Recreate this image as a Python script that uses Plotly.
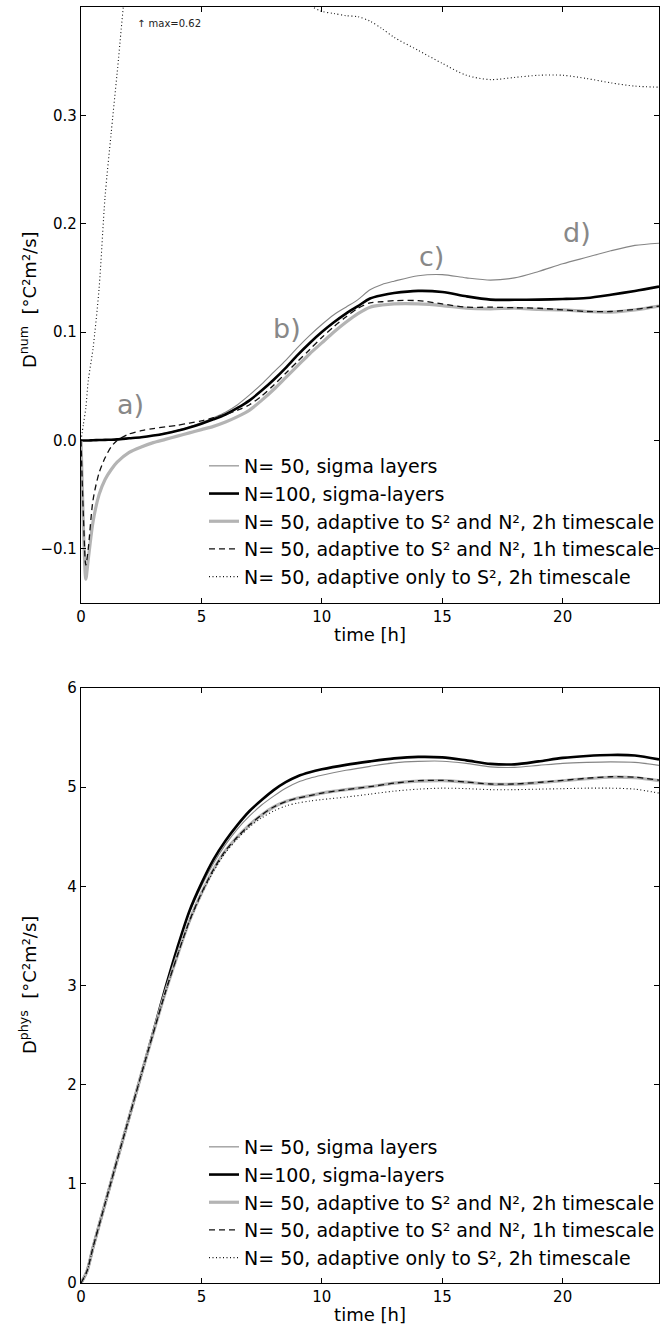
import plotly.graph_objects as go

# ---------------- data ----------------
# top panel (D_num)
t_top = [0, 0.1, 0.2, 0.3, 0.5, 0.75, 1, 1.25, 1.5,
         2, 2.5, 3, 3.5, 4, 4.5, 5, 5.5, 6, 6.5, 7, 7.5, 8, 8.5, 9, 9.5,
         10, 10.5, 11, 11.5, 12, 12.5, 13,
         14, 15, 16, 17, 18, 19, 20, 21, 22, 23, 24]

num_sigma50 = [0, 0, 0, 0, 0.0002, 0.0004, 0.0005, 0.0007, 0.001,
               0.002, 0.003, 0.0045, 0.0068, 0.0095, 0.0125, 0.0165, 0.021, 0.026, 0.033, 0.042, 0.052, 0.063, 0.074, 0.086, 0.097,
               0.107, 0.116, 0.123, 0.130, 0.139, 0.144, 0.147,
               0.152, 0.153, 0.150, 0.148, 0.150, 0.156, 0.163, 0.169, 0.175, 0.180, 0.182]

num_sigma100 = [0, 0, 0, 0, 0.0002, 0.0004, 0.0005, 0.0007, 0.001,
                0.002, 0.003, 0.0045, 0.0065, 0.009, 0.012, 0.0155, 0.0195, 0.024, 0.030, 0.037, 0.046, 0.056, 0.067, 0.079, 0.090,
                0.100, 0.109, 0.117, 0.124, 0.131, 0.134, 0.136,
                0.138, 0.137, 0.133, 0.130, 0.1298, 0.130, 0.1305, 0.1315, 0.1345, 0.138, 0.142]

num_adapt_2h = [0, -0.08, -0.128, -0.11, -0.075, -0.05, -0.036, -0.027, -0.020,
                -0.011, -0.006, -0.002, 0.001, 0.004, 0.007, 0.010, 0.013, 0.017, 0.022, 0.028, 0.037, 0.047, 0.058, 0.069, 0.080,
                0.090, 0.100, 0.109, 0.117, 0.123, 0.125, 0.126,
                0.126, 0.1245, 0.122, 0.1215, 0.122, 0.121, 0.1205, 0.119, 0.1185, 0.1205, 0.124]

num_adapt_1h = [0, -0.07, -0.115, -0.10, -0.055, -0.03, -0.016, -0.006, 0.0,
                0.006, 0.009, 0.011, 0.0125, 0.014, 0.016, 0.018, 0.021, 0.024, 0.028, 0.033, 0.041, 0.051, 0.062, 0.073, 0.084,
                0.095, 0.105, 0.114, 0.122, 0.127, 0.128, 0.129,
                0.129, 0.126, 0.123, 0.123, 0.1225, 0.122, 0.1205, 0.119, 0.119, 0.121, 0.124]

num_adapt_S2 = [0, 0.015, 0.03, 0.055, 0.085, 0.14, 0.225, 0.283, 0.339,
                0.45, 0.51, 0.555, 0.59, 0.61, 0.62, 0.615, 0.60, 0.58, 0.56, 0.53, 0.50, 0.47, 0.44, 0.42, 0.402,
                0.396, 0.394, 0.392, 0.391, 0.387, 0.380, 0.372,
                0.360, 0.348, 0.337, 0.333, 0.335, 0.337, 0.337, 0.334, 0.330, 0.327, 0.326]

# bottom panel (D_phys)
t_bot = [0, 0.25, 0.5, 1, 1.5, 2, 2.5, 3, 3.5, 4, 4.5, 5, 5.5, 6, 6.5, 7, 7.5, 8, 8.5, 9, 9.5,
         10, 11, 12, 13, 14, 15, 16, 17, 18, 19, 20, 21, 22, 23, 24]

phys_sigma50 = [0, 0.12, 0.36, 0.80, 1.24, 1.67, 2.10, 2.53, 2.96, 3.36, 3.73, 4.00, 4.23, 4.42, 4.58, 4.71, 4.82, 4.91, 4.99, 5.05, 5.09,
                5.12, 5.17, 5.21, 5.245, 5.26, 5.262, 5.24, 5.205, 5.20, 5.22, 5.24, 5.25, 5.255, 5.25, 5.22]

phys_sigma100 = [0, 0.12, 0.36, 0.80, 1.24, 1.67, 2.10, 2.53, 2.97, 3.38, 3.75, 4.03, 4.27, 4.46, 4.62, 4.76, 4.87, 4.97, 5.05, 5.11, 5.15,
                 5.18, 5.225, 5.26, 5.29, 5.305, 5.30, 5.27, 5.235, 5.23, 5.26, 5.295, 5.315, 5.325, 5.32, 5.28]

phys_adapt_2h = [0, 0.12, 0.36, 0.80, 1.24, 1.67, 2.10, 2.52, 2.93, 3.30, 3.65, 3.93, 4.17, 4.36, 4.50, 4.62, 4.72, 4.80, 4.855, 4.89, 4.915,
                 4.94, 4.975, 5.005, 5.04, 5.06, 5.065, 5.05, 5.03, 5.03, 5.045, 5.065, 5.085, 5.10, 5.095, 5.065]

phys_adapt_1h = [0, 0.12, 0.36, 0.80, 1.24, 1.67, 2.10, 2.52, 2.93, 3.30, 3.65, 3.93, 4.17, 4.36, 4.50, 4.62, 4.72, 4.80, 4.855, 4.89, 4.915,
                 4.94, 4.975, 5.005, 5.04, 5.065, 5.068, 5.052, 5.032, 5.032, 5.048, 5.068, 5.09, 5.105, 5.10, 5.07]

phys_adapt_S2 = [0, 0.12, 0.36, 0.80, 1.24, 1.67, 2.10, 2.52, 2.93, 3.30, 3.64, 3.92, 4.15, 4.34, 4.48, 4.60, 4.69, 4.76, 4.81, 4.84, 4.86,
                 4.875, 4.90, 4.93, 4.96, 4.98, 4.99, 4.985, 4.975, 4.975, 4.98, 4.985, 4.99, 4.99, 4.98, 4.94]

labels = ["N= 50, sigma layers",
          "N=100, sigma-layers",
          "N= 50, adaptive to S² and N², 2h timescale",
          "N= 50, adaptive to S² and N², 1h timescale",
          "N= 50, adaptive only to S², 2h timescale"]

x_ticks = [0, 5, 10, 15, 20]
y_ticks_top = [-0.1, 0.0, 0.1, 0.2, 0.3]
y_ticks_bot = [0, 1, 2, 3, 4, 5, 6]

panel_letters = ["a)", "b)", "c)", "d)"]
letter_t = [2.07, 8.55, 14.57, 20.6]
letter_v = [0.033, 0.103, 0.170, 0.192]

y_titles = ["D<sup>num</sup>  [°C²m²/s]", "D<sup>phys</sup>  [°C²m²/s]"]

# ---------------- styles ----------------
styles = [
    dict(color="#858585", width=1.1),
    dict(color="#000000", width=2.6),
    dict(color="#b4b4b4", width=3.2),
    dict(color="#111111", width=1.3, dash="6px,4px"),
    dict(color="#111111", width=1.1, dash="1px,2.5px"),
]

FONT = "DejaVu Sans"
fig = go.Figure()

top_series = [num_sigma50, num_sigma100, num_adapt_2h, num_adapt_1h, num_adapt_S2]
bot_series = [phys_sigma50, phys_sigma100, phys_adapt_2h, phys_adapt_1h, phys_adapt_S2]

for lab, ys, st in zip(labels, top_series, styles):
    fig.add_trace(go.Scatter(x=t_top, y=ys, mode="lines", name=lab,
                             line=dict(shape="spline", smoothing=0.8, **st),
                             xaxis="x", yaxis="y", legend="legend"))
for lab, ys, st in zip(labels, bot_series, styles):
    fig.add_trace(go.Scatter(x=t_bot, y=ys, mode="lines", name=lab,
                             line=dict(shape="spline", smoothing=0.8, **st),
                             xaxis="x2", yaxis="y2", legend="legend2"))

W, H = 669, 1329
ML, MR, MT, MB = 81, 10, 7, 46
PH = H - MT - MB
PW = W - ML - MR
top_dom = [1 - (603 - MT) / PH, 1]
bot_dom = [0, 1 - (688 - MT) / PH]

axis_common = dict(showline=True, linecolor="black", linewidth=1.2, mirror="ticks",
                   ticks="inside", ticklen=5, tickwidth=1, tickcolor="black",
                   showgrid=False, zeroline=False, automargin=False,
                   tickfont=dict(family=FONT, size=15, color="black"))

fig.update_layout(
    width=W, height=H,
    margin=dict(l=ML, r=MR, t=MT, b=MB, autoexpand=False),
    paper_bgcolor="white", plot_bgcolor="white",
    font=dict(family=FONT, color="black"),
    xaxis=dict(domain=[0, 1], range=[0, 24], anchor="y", tickvals=x_ticks,
               title=dict(text="time [h]", font=dict(family=FONT, size=18), standoff=3),
               **axis_common),
    yaxis=dict(domain=top_dom, range=[-0.15, 0.4], anchor="x", tickvals=y_ticks_top,
               tickformat=".1f", **axis_common),
    xaxis2=dict(domain=[0, 1], range=[0, 24], anchor="y2", tickvals=x_ticks,
                title=dict(text="time [h]", font=dict(family=FONT, size=18), standoff=3),
                **axis_common),
    yaxis2=dict(domain=bot_dom, range=[0, 6], anchor="x2", tickvals=y_ticks_bot,
                **axis_common),
    legend=dict(x=(204 - ML) / PW, xanchor="left",
                y=1 - (447 - MT) / PH, yanchor="top",
                bgcolor="rgba(0,0,0,0)", borderwidth=0,
                font=dict(family=FONT, size=19, color="black")),
    legend2=dict(x=(204 - ML) / PW, xanchor="left",
                 y=1 - (1128 - MT) / PH, yanchor="top",
                 bgcolor="rgba(0,0,0,0)", borderwidth=0,
                 font=dict(family=FONT, size=19, color="black")),
    showlegend=True,
)

# y-axis titles (rotated), placed left of tick labels
for txt, ycen in zip(y_titles, [300, 985]):
    fig.add_annotation(x=(28 - ML) / PW, y=1 - (ycen - MT) / PH, xref="paper", yref="paper",
                       text=txt, textangle=-90, showarrow=False,
                       xanchor="center", yanchor="middle",
                       font=dict(family=FONT, size=18, color="black"))

for txt, tx, ty in zip(panel_letters, letter_t, letter_v):
    fig.add_annotation(x=tx, y=ty, xref="x", yref="y", text=txt, showarrow=False,
                       font=dict(family=FONT, size=27, color="#888888"))

fig.add_annotation(x=2.25, y=0.385, xref="x", yref="y", text="↑ max=0.62",
                   showarrow=False, xanchor="left",
                   font=dict(family=FONT, size=10, color="#222222"))

fig.write_html("out.html", config={"displayModeBar": False},
               post_script="document.body.style.margin='0px';document.body.style.overflow='hidden';")
